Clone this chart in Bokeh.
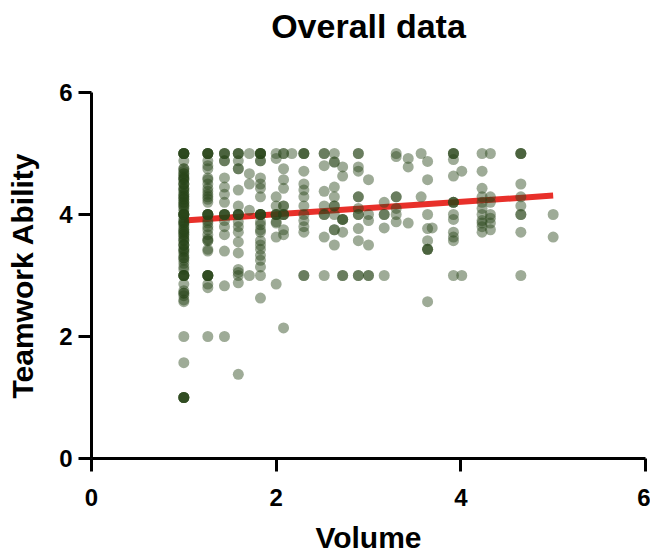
from bokeh.plotting import figure
from bokeh.models import Range1d, FixedTicker, ColumnDataSource, Title
from bokeh.embed import file_html
from bokeh.resources import INLINE

# ---- data ----
volume_levels = [1.0, 1.26, 1.44, 1.59, 1.71, 1.83, 2.0, 2.08, 2.17, 2.30, 2.52,
                 2.63, 2.72, 2.89, 3.0, 3.17, 3.30, 3.43, 3.57, 3.64, 3.69, 3.92,
                 4.01, 4.23, 4.32, 4.65, 5.0]

teamwork_at_level = [
    [5, 5, 5, 5, 5, 5, 4.88, 4.75, 4.75, 4.71, 4.67, 4.67, 4.63, 4.6, 4.6, 4.57, 4.57, 4.5,
     4.5, 4.5, 4.43, 4.43, 4.4, 4.38, 4.33, 4.33, 4.29, 4.29, 4.25, 4.25, 4.2, 4.2, 4.17,
     4.14, 4.14, 4.1, 4.06, 4.0, 4.0, 4.0, 4.0, 4.0, 4.0, 3.94, 3.9, 3.88, 3.86, 3.86, 3.83,
     3.8, 3.75, 3.75, 3.71, 3.71, 3.67, 3.67, 3.63, 3.6, 3.57, 3.57, 3.5, 3.5, 3.5, 3.43,
     3.43, 3.4, 3.38, 3.33, 3.29, 3.29, 3.25, 3.2, 3.14, 3.1, 3.0, 3.0, 3.0, 3.0, 3.0, 2.86,
     2.75, 2.71, 2.71, 2.67, 2.6, 2.57, 2.0, 1.57, 1.0, 1.0, 1.0, 1.0, 1.0],
    [5, 5, 5, 5, 5, 4.88, 4.8, 4.75, 4.6, 4.57, 4.5, 4.43, 4.38, 4.33, 4.29, 4.25, 4.2, 4.0,
     4.0, 4.0, 4.0, 4.0, 3.9, 3.86, 3.8, 3.75, 3.67, 3.6, 3.57, 3.57, 3.43, 3.4, 3.0, 3.0,
     3.0, 3.0, 3.0, 2.86, 2.8, 2.0],
    [5, 5, 5, 4.88, 4.88, 4.6, 4.45, 4.33, 4.2, 4.0, 4.0, 4.0, 4.0, 3.9, 3.8, 3.67, 3.4,
     2.83, 2.0],
    [5, 5, 5, 4.88, 4.75, 4.75, 4.4, 4.14, 4.0, 4.0, 4.0, 4.0, 3.88, 3.8, 3.71, 3.55, 3.37,
     3.1, 3.05, 3.0, 2.88, 1.38],
    [5, 4.67, 4.5, 4.07, 3.0],
    [5, 5, 5, 5, 5, 4.88, 4.88, 4.6, 4.5, 4.43, 4.29, 4.0, 4.0, 4.0, 4.0, 4.0, 3.88, 3.83,
     3.75, 3.71, 3.57, 3.5, 3.43, 3.33, 3.25, 3.14, 3.0, 2.63],
    [5, 4.92, 4.29, 4.14, 4.0, 4.0, 4.0, 3.88, 3.86, 3.63, 2.86],
    [5, 5, 4.75, 4.57, 4.43, 4.14, 4.14, 4.0, 4.0, 4.0, 3.75, 3.67, 2.14],
    [5],
    [5, 5, 5, 4.71, 4.5, 4.4, 4.29, 4.14, 4.0, 3.9, 3.8, 3.71, 3.0, 3.0],
    [5, 5, 4.8, 4.38, 4.14, 4.0, 4.0, 3.63, 3.0],
    [5, 4.86, 4.86, 4.45, 4.29, 4.14, 4.14, 4.0, 3.75, 3.75, 3.5],
    [4.78, 4.63, 3.92, 3.92, 3.92, 3.71, 3.0, 3.0],
    [5, 5, 4.78, 4.71, 4.29, 4.29, 4.1, 4.0, 4.0, 3.77, 3.57, 3.0, 3.0],
    [4.57, 4.0, 3.9, 3.5, 3.0, 3.0],
    [4.2, 4.0, 4.0, 3.78, 3.0],
    [5, 4.95, 4.29, 4.29, 4.1, 4.0, 3.88],
    [4.92, 4.78, 3.86],
    [5, 4.29],
    [4.87, 4.57, 4.0, 3.77, 3.57, 3.43, 3.43, 3.43, 2.57],
    [3.78],
    [5, 5, 5, 4.9, 4.63, 4.2, 4.2, 4.2, 4.0, 3.92, 3.71, 3.63, 3.57, 3.0],
    [4.71, 3.0],
    [5, 4.71, 4.43, 4.29, 4.2, 4.1, 4.0, 3.9, 3.86, 3.8, 3.71],
    [5, 4.29, 4.2, 4.0, 3.94, 3.86, 3.75],
    [5, 5, 5, 4.5, 4.29, 4.14, 4.0, 4.0, 3.71, 3.0],
    [4.0, 3.63],
]

fit_x = [1.0, 5.0]
fit_y = [3.90, 4.31]

x_ticks = [0, 2, 4, 6]
y_ticks = [0, 2, 4, 6]

title_text = "Overall data"

volume = []
teamwork = []
for lv, ys in zip(volume_levels, teamwork_at_level):
    for yv in ys:
        volume.append(lv)
        teamwork.append(yv)

src = ColumnDataSource(data=dict(volume=volume, teamwork=teamwork))

FONT = "Liberation Sans"

p = figure(width=650, height=556,
           x_range=Range1d(0, 6), y_range=Range1d(0, 6),
           output_backend="svg", toolbar_location=None,
           min_border_left=91, min_border_right=5,
           min_border_top=92, min_border_bottom=98,
           title=title_text)

p.outline_line_color = None
p.grid.visible = False
p.background_fill_color = "white"
p.border_fill_color = "white"

p.title.align = "center"
p.title.vertical_align = "bottom"
p.title.standoff = 4
p.title.text_font = FONT
p.title.text_font_style = "bold"
p.title.text_font_size = "34px"
p.title.text_color = "black"

# blank spacer between title and frame
p.add_layout(Title(text=" ", text_font=FONT, text_font_size="20px", standoff=22), "above")

p.line(fit_x, fit_y, line_color="#E8302A", line_width=6)
p.scatter("volume", "teamwork", source=src, size=11,
          fill_color="#284418", fill_alpha=0.45, line_color=None)

for ax in (p.xaxis[0], p.yaxis[0]):
    ax.axis_line_width = 3
    ax.axis_line_color = "black"
    ax.major_tick_line_width = 3
    ax.major_tick_line_color = "black"
    ax.major_tick_in = 0
    ax.major_tick_out = 13
    ax.minor_tick_line_color = None
    ax.major_label_text_font = FONT
    ax.major_label_text_font_style = "bold"
    ax.major_label_text_font_size = "24px"
    ax.major_label_text_color = "black"
    ax.axis_label_text_font = FONT
    ax.axis_label_text_font_style = "bold"
    ax.axis_label_text_font_size = "30px"
    ax.axis_label_text_color = "black"

p.xaxis.ticker = FixedTicker(ticks=x_ticks)
p.yaxis.ticker = FixedTicker(ticks=y_ticks)
p.xaxis.axis_label = "Volume"
p.yaxis.axis_label = "Teamwork Ability"
p.xaxis.major_label_standoff = 17
p.yaxis.major_label_standoff = 6
p.xaxis.axis_label_standoff = 12
p.yaxis.axis_label_standoff = 17

open("out.html", "w").write(file_html(p, INLINE))
